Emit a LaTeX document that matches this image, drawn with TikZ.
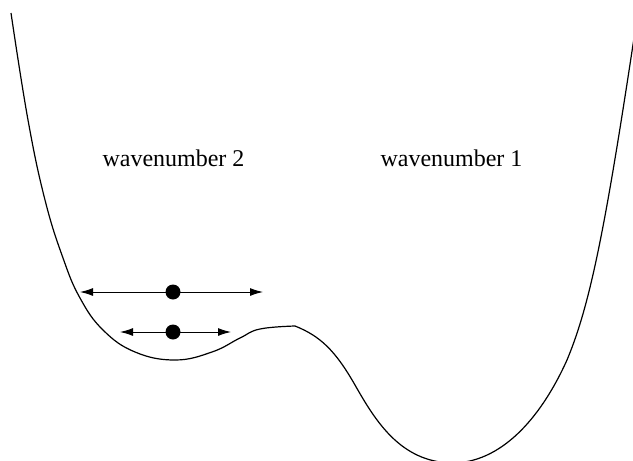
\documentclass[tikz,border=0pt]{standalone}
\usepackage{fontspec}
\setmainfont{Liberation Serif}
\usetikzlibrary{arrows.meta}
\begin{document}
\begin{tikzpicture}[x=1pt,y=-1pt,
  curve/.style={line width=1.2pt},
  arr/.style={line width=1pt,{Latex[length=13pt,width=8pt]}-{Latex[length=13pt,width=8pt]}},
  ball/.style={circle,fill=black,inner sep=0pt,minimum size=15pt},
  lbl/.style={font=\fontsize{24}{28}\selectfont,anchor=base}]
\useasboundingbox (0,0) rectangle (633,461);
\begin{scope}
\clip (0,0) rectangle (633,461);
\draw[curve] plot[smooth,tension=0.7] coordinates {
 (11,13) (28,120) (45,200) (63,258) (80,298) (103,330) (135,352) (175,360)
 (212,352) (240,338) (260,329) (295,326)};
\draw[curve] (295,326) .. controls (320,336) and (335,350) .. (355,385)
  .. controls (375,420) and (400,462) .. (452,463)
  .. controls (500,463) and (540,420) .. (567,360)
  .. controls (590,305) and (605,230) .. (634,38);
\end{scope}
\node[lbl] (w2) at (173.5,166) {wavenumber 2};
\node[lbl] (w1) at (451.5,166) {wavenumber 1};
\node[ball] (b1) at (173,292) {};
\node[ball] (b2) at (173,332) {};
\coordinate (l1) at (80,292);
\coordinate (r1) at (263,292);
\coordinate (l2) at (120,332);
\coordinate (r2) at (231,332);
\draw[arr] (l1) -- (r1);
\draw[arr] (l2) -- (r2);
\end{tikzpicture}
\end{document}
